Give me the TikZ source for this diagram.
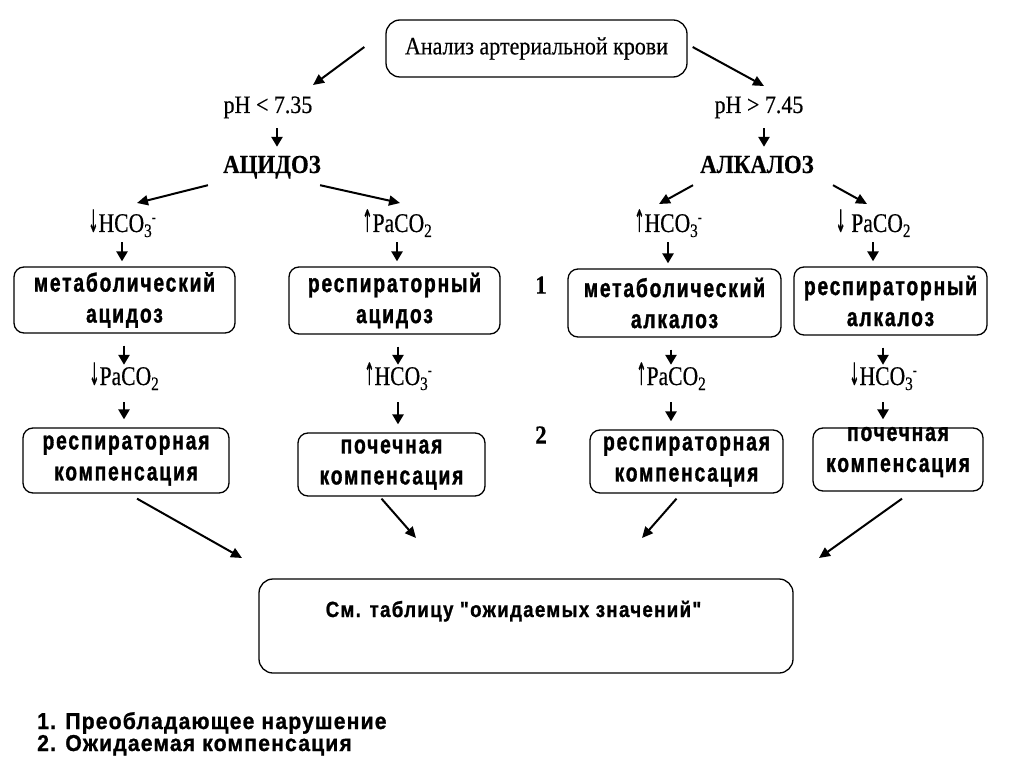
\documentclass[tikz,border=0pt]{standalone}
\usepackage{fontspec}
\setmainfont{Liberation Serif}
\newfontfamily\serifc[FakeStretch=0.88,FakeBold=0.4]{Liberation Serif}
\newfontfamily\serifn[FakeStretch=0.8,FakeBold=0.4]{Liberation Serif}
\newfontfamily\arrf[FakeStretch=0.4,FakeBold=0.3]{DejaVu Sans}
\newfontfamily\boxf[FakeStretch=0.74,LetterSpace=7,FakeBold=1.2]{Liberation Sans}
\newfontfamily\footf[FakeStretch=0.92,LetterSpace=5,FakeBold=1]{Liberation Sans}
\newfontfamily\tabf[FakeStretch=0.85,LetterSpace=6,FakeBold=1]{Liberation Sans}
\newcommand{\dn}{{\arrf\fontsize{31}{31}\selectfont ↓}}
\newcommand{\up}{{\arrf\fontsize{31}{31}\selectfont ↑}}
\newcommand{\sbs}[1]{\raisebox{-5pt}{\fontsize{19}{19}\selectfont #1}}
\newcommand{\sps}{\raisebox{10pt}{\fontsize{15}{15}\selectfont -}}
\usetikzlibrary{arrows.meta}
\begin{document}
\begin{tikzpicture}[x=1pt,y=-1pt,
  lbl/.style={inner sep=0pt, text height=17pt, text depth=5pt, font=\serifc\fontsize{25}{30}\selectfont},
  chem/.style={inner sep=0pt, text height=17pt, text depth=5pt, font=\serifn\fontsize{27}{30}\selectfont},
  blbl/.style={lbl, font=\serifc\bfseries\fontsize{26}{30}\selectfont},
  box/.style={draw, line width=1.3pt, rounded corners=10pt, inner sep=0pt, align=center,
    font=\boxf\bfseries\fontsize{26}{31}\selectfont},
  boxtext/.style={inner sep=0pt, align=center, font=\boxf\bfseries\fontsize{26}{31}\selectfont},
  arr/.style={line width=2pt, -{Triangle[length=11pt,width=10pt]}},
  varr/.style={line width=2.8pt, -{Triangle[length=10pt,width=11pt]}},
  num/.style={inner sep=0pt, font=\serifc\bfseries\fontsize{26}{30}\selectfont},
  foot/.style={inner sep=0pt, anchor=base west, font=\footf\bfseries\fontsize{23}{26}\selectfont}]
\useasboundingbox[fill=white] (0,0) rectangle (1024,767);

% top
\node[draw, line width=1.3pt, rounded corners=14pt, minimum width=301pt, minimum height=57pt,
  inner sep=0pt, font=\serifc\fontsize{25}{30}\selectfont] (top) at (536.5,48.5) {Анализ артериальной крови};
\node[lbl] (ph1) at (268,107) {pH < 7.35};
\node[lbl] (ph2) at (759,107) {pH > 7.45};
\node[blbl] (acid) at (272,167) {АЦИДОЗ};
\node[blbl] (alk) at (757,167) {АЛКАЛОЗ};

% row 1 labels
\node[chem] (lh1) at (122,226) {\dn HCO\sbs{3}\sps};
\node[chem] (lp1) at (397,226) {\up PaCO\sbs{2}};
\node[chem] (lh2) at (668,226) {\up HCO\sbs{3}\sps};
\node[chem] (lp2) at (873,226) {\dn\ PaCO\sbs{2}};

% row 1 boxes
\node[box, minimum width=221pt, minimum height=66pt] (m1) at (124.5,300) {метаболический\\ацидоз};
\node[box, minimum width=211pt, minimum height=67pt] (r1) at (394.5,300.5) {респираторный\\ацидоз};
\node[box, minimum width=213pt, minimum height=68pt] (m2) at (674.5,303) {метаболический\\алкалоз};
\node[box, minimum width=193pt, minimum height=68pt] (r2) at (890.5,301) {респираторный\\алкалоз};
\node[num] (n1) at (541,285) {1};

% row 2 labels
\node[chem] (lp3) at (124,379) {\dn PaCO\sbs{2}};
\node[chem] (lh3) at (398,379) {\up HCO\sbs{3}\sps};
\node[chem] (lp4) at (671,379) {\up PaCO\sbs{2}};
\node[chem] (lh4) at (883,379) {\dn HCO\sbs{3}\sps};

% row 2 boxes
\node[box, minimum width=206pt, minimum height=65pt] (rc1) at (126,460.5) {респираторная\\компенсация};
\node[box, minimum width=187pt, minimum height=63pt] (pk1) at (391.5,464.5) {почечная\\компенсация};
\node[box, minimum width=193pt, minimum height=63pt] (rc2) at (686.5,461.5) {респираторная\\компенсация};
\node[box, minimum width=170pt, minimum height=63pt] (pk2) at (898,459.5) {};
\node[boxtext] (pk2t) at (898,452) {почечная\\компенсация};
\node[num] (n2) at (541,435) {2};

% bottom box
\node[draw, line width=1.3pt, rounded corners=14pt, minimum width=534pt, minimum height=94pt] (tab) at (526,626) {};
\node[inner sep=0pt, anchor=base, font=\tabf\bfseries\fontsize{22}{26}\selectfont] (tabt) at (513.5,617) {См. таблицу "ожидаемых значений"};

\node[foot] (f1) at (37,729) {1. Преобладающее нарушение};
\node[foot] (f2) at (37,751) {2. Ожидаемая компенсация};

% diagonal arrow ends
\coordinate (e1) at (313,85);
\coordinate (e2) at (764,86);
\coordinate (e3) at (137,203);
\coordinate (e4) at (400,203);
\coordinate (e5) at (659,204);
\coordinate (e6) at (867,204);
\coordinate (e7) at (242,558);
\coordinate (e8) at (416,538);
\coordinate (e9) at (642,538);
\coordinate (e10) at (819,558);

\draw[arr] ([shift={(-21,-1.5)}]top.west) -- (e1);
\draw[arr] ([shift={(5,-1.5)}]top.east) -- (e2);
\draw[arr] ([shift={(-15,7)}]acid.south west) -- (e3);
\draw[arr] ([shift={(-1,7)}]acid.south east) -- (e4);
\draw[arr] ([shift={(-7,7)}]alk.south west) -- (e5);
\draw[arr] ([shift={(19,7)}]alk.south east) -- (e6);
\draw[arr] ([shift={(11,5)}]rc1.south) -- (e7);
\draw[arr] ([shift={(-10,2)}]pk1.south) -- (e8);
\draw[arr] ([shift={(-10,5)}]rc2.south) -- (e9);
\draw[arr] ([shift={(4,7)}]pk2.south) -- (e10);

% vertical arrows
\draw[varr, shorten <=10pt, shorten >=9pt] ([xshift=5pt]ph1.south -| acid) -- ([xshift=5pt]acid.north);
\draw[varr, shorten <=10pt, shorten >=9pt] ([xshift=7pt]ph2.south -| alk) -- ([xshift=7pt]alk.north);
\draw[varr, shorten <=5pt, shorten >=5pt] (lh1.south) -- (lh1.south |- m1.north);
\draw[varr, shorten <=5pt, shorten >=5pt] (lp1.south) -- (lp1.south |- r1.north);
\draw[varr, shorten <=5pt, shorten >=5pt] (lh2.south) -- (lh2.south |- m2.north);
\draw[varr, shorten <=5pt, shorten >=5pt] (lp2.south) -- (lp2.south |- r2.north);
\draw[varr, shorten <=12pt, shorten >=3pt] (m1.south -| lp3) -- (lp3.north);
\draw[varr, shorten <=12pt, shorten >=3pt] (r1.south -| lh3) -- (lh3.north);
\draw[varr, shorten <=12pt, shorten >=3pt] (m2.south -| lp4) -- (lp4.north);
\draw[varr, shorten <=12pt, shorten >=3pt] (r2.south -| lh4) -- (lh4.north);
\draw[varr, shorten <=12pt, shorten >=8pt] (lp3.south) -- (lp3.south |- rc1.north);
\draw[varr, shorten <=12pt, shorten >=8pt] (lh3.south) -- (lh3.south |- pk1.north);
\draw[varr, shorten <=12pt, shorten >=8pt] (lp4.south) -- (lp4.south |- rc2.north);
\draw[varr, shorten <=12pt, shorten >=8pt] (lh4.south) -- (lh4.south |- pk2.north);
\end{tikzpicture}
\end{document}
